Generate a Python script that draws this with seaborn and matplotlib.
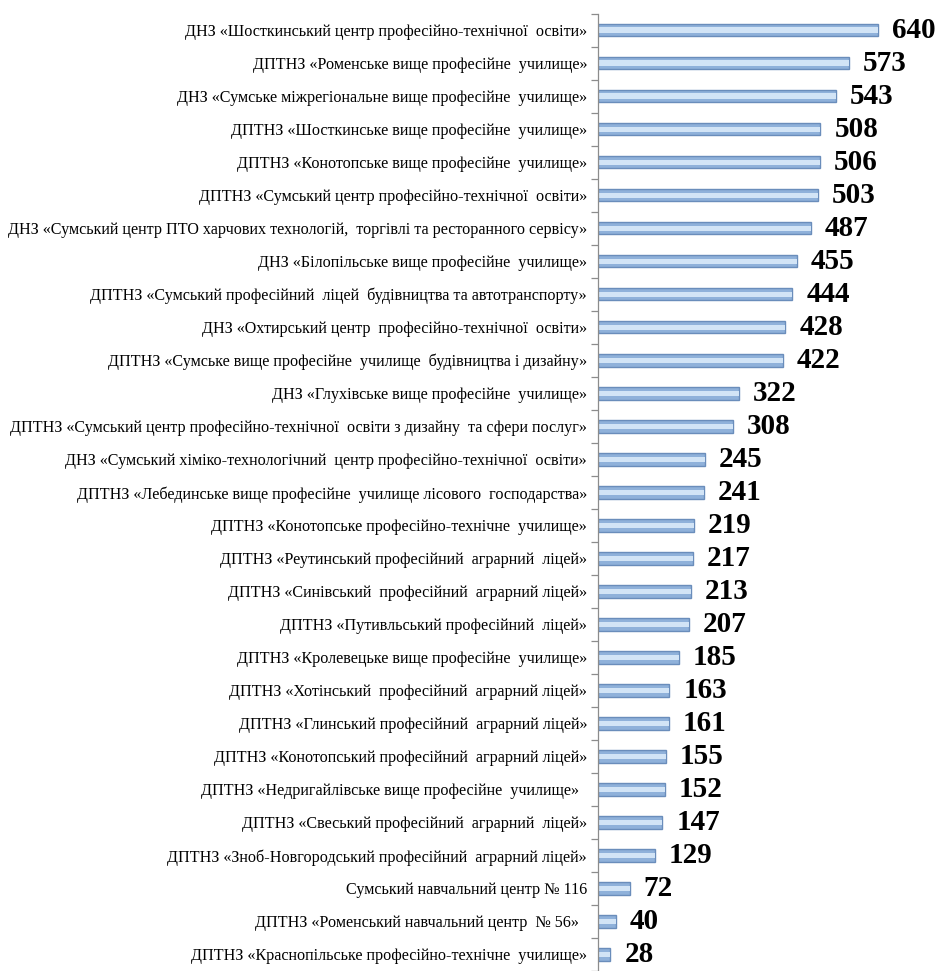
import numpy as np
import pandas as pd
import matplotlib
matplotlib.use("Agg")
import matplotlib.pyplot as plt
import seaborn as sns

schools = [
    "ДНЗ «Шосткинський центр професійно-технічної  освіти»",
    "ДПТНЗ «Роменське вище професійне  училище»",
    "ДНЗ «Сумське міжрегіональне вище професійне  училище»",
    "ДПТНЗ «Шосткинське вище професійне  училище»",
    "ДПТНЗ «Конотопське вище професійне  училище»",
    "ДПТНЗ «Сумський центр професійно-технічної  освіти»",
    "ДНЗ «Сумський центр ПТО харчових технологій,  торгівлі та ресторанного сервісу»",
    "ДНЗ «Білопільське вище професійне  училище»",
    "ДПТНЗ «Сумський професійний  ліцей  будівництва та автотранспорту»",
    "ДНЗ «Охтирський центр  професійно-технічної  освіти»",
    "ДПТНЗ «Сумське вище професійне  училище  будівництва і дизайну»",
    "ДНЗ «Глухівське вище професійне  училище»",
    "ДПТНЗ «Сумський центр професійно-технічної  освіти з дизайну  та сфери послуг»",
    "ДНЗ «Сумський хіміко-технологічний  центр професійно-технічної  освіти»",
    "ДПТНЗ «Лебединське вище професійне  училище лісового  господарства»",
    "ДПТНЗ «Конотопське професійно-технічне  училище»",
    "ДПТНЗ «Реутинський професійний  аграрний  ліцей»",
    "ДПТНЗ «Синівський  професійний  аграрний ліцей»",
    "ДПТНЗ «Путивльський професійний  ліцей»",
    "ДПТНЗ «Кролевецьке вище професійне  училище»",
    "ДПТНЗ «Хотінський  професійний  аграрний ліцей»",
    "ДПТНЗ «Глинський професійний  аграрний ліцей»",
    "ДПТНЗ «Конотопський професійний  аграрний ліцей»",
    "ДПТНЗ «Недригайлівське вище професійне  училище»  ",
    "ДПТНЗ «Свеський професійний  аграрний  ліцей»",
    "ДПТНЗ «Зноб-Новгородський професійний  аграрний ліцей»",
    "Сумський навчальний центр № 116",
    "ДПТНЗ «Роменський навчальний центр  № 56»  ",
    "ДПТНЗ «Краснопільське професійно-технічне  училище»",
]
students = [640, 573, 543, 508, 506, 503, 487, 455, 444, 428, 422, 322, 308, 245,
            241, 219, 217, 213, 207, 185, 163, 161, 155, 152, 147, 129, 72, 40, 28]

df = pd.DataFrame({"school": schools, "students": students})

serif = ["Liberation Serif", "DejaVu Serif"]

fig = plt.figure(figsize=(9.39, 9.71), dpi=100)
ax = fig.add_axes([0.637, 0.0, 0.363, 0.986])

# body of the bar, then a pale stripe on top to mimic the glossy look
sns.barplot(data=df, x="students", y="school", orient="h", ax=ax,
            color="#8fb1da", edgecolor="#6a8dbb", linewidth=1.0, width=0.38,
            saturation=1)
sns.barplot(data=df, x="students", y="school", orient="h", ax=ax,
            color="#d2e4f6", linewidth=0, width=0.16, saturation=1)

ax.bar_label(ax.containers[0], labels=[str(v) for v in students], padding=10,
             fontsize=21, fontweight="bold", family=serif, color="black")

ax.set_xlim(0, 779)
ax.set_ylim(len(schools) - 0.5, -0.5)
ax.set_xlabel("")
ax.set_ylabel("")
ax.set_xticks([])

for side in ["top", "right", "bottom"]:
    ax.spines[side].set_visible(False)
ax.spines["left"].set_color("#8c8c8c")
ax.spines["left"].set_linewidth(0.9)

ax.tick_params(axis="y", which="major", length=0, pad=8)
ax.set_yticks(np.arange(-0.5, len(schools), 1), minor=True)
ax.tick_params(axis="y", which="minor", length=5, color="#8c8c8c", width=0.9)
for lbl in ax.get_yticklabels():
    lbl.set_family(serif)
    lbl.set_fontsize(11.6)

fig.savefig("out.png", dpi=100)
